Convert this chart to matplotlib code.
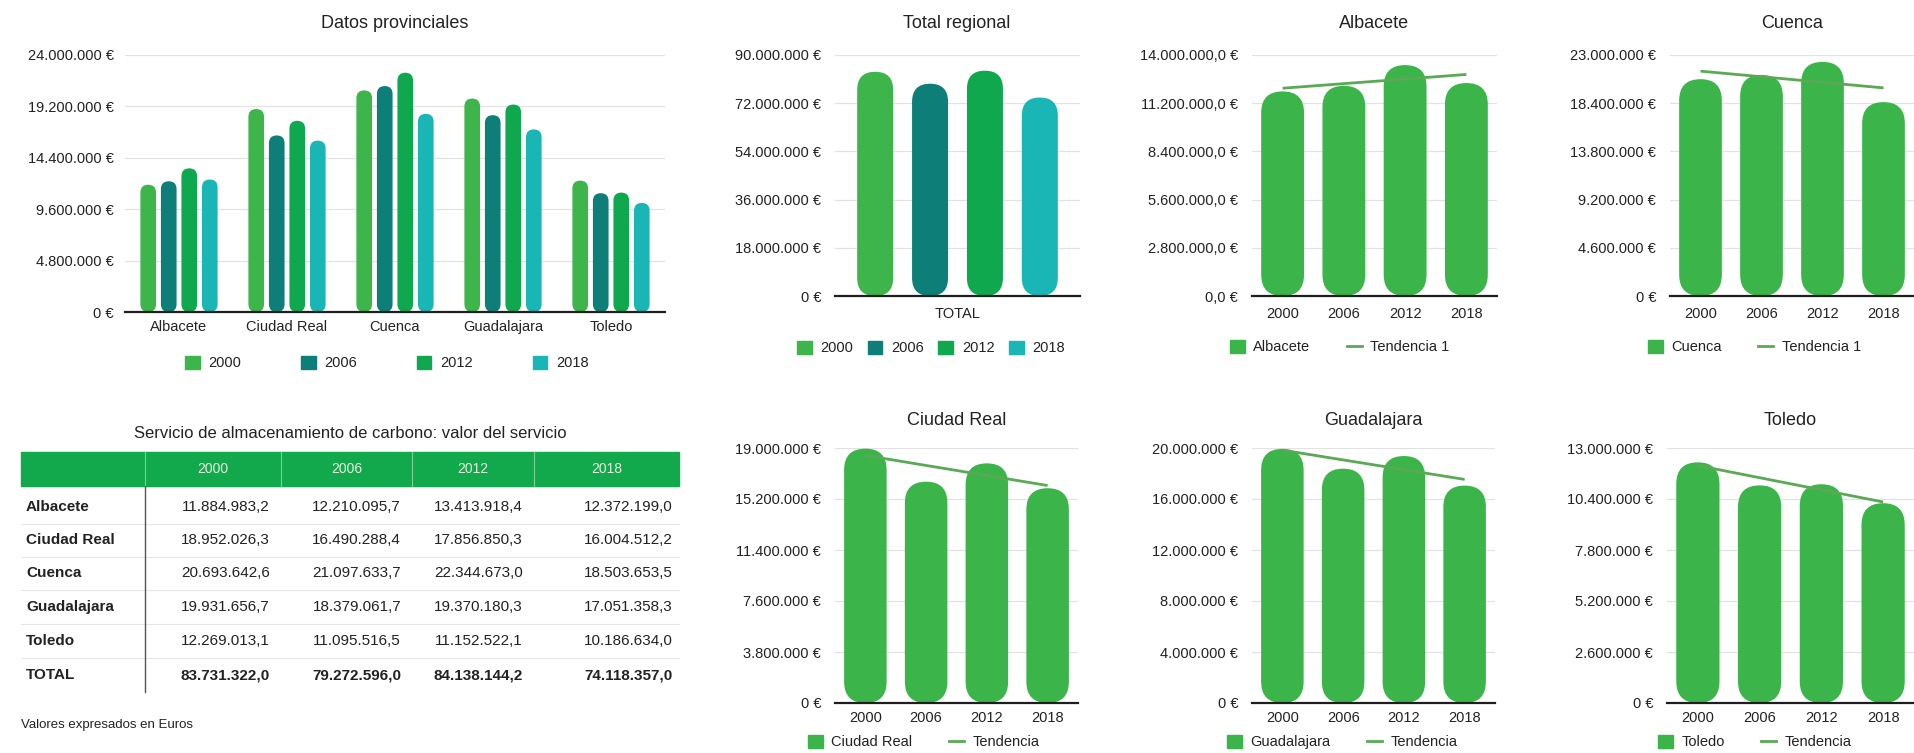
import numpy as np
import matplotlib
matplotlib.use('Agg')
import matplotlib.pyplot as plt
from matplotlib.patches import FancyBboxPatch, Patch
from matplotlib.lines import Line2D

plt.rcParams['font.family'] = ['Liberation Sans', 'DejaVu Sans']

W, H = 1914, 753

# ---------------- data ----------------
years = ['2000', '2006', '2012', '2018']
provinces = ['Albacete', 'Ciudad Real', 'Cuenca', 'Guadalajara', 'Toledo']
albacete = [11884983.2, 12210095.7, 13413918.4, 12372199.0]
ciudad_real = [18952026.3, 16490288.4, 17856850.3, 16004512.2]
cuenca = [20693642.6, 21097633.7, 22344673.0, 18503653.5]
guadalajara = [19931656.7, 18379061.7, 19370180.3, 17051358.3]
toledo = [12269013.1, 11095516.5, 11152522.1, 10186634.0]
total = [83731322.0, 79272596.0, 84138144.2, 74118357.0]
total_label = 'TOTAL'

# axis scales (max, step, decimals)
scale_prov = (24000000, 4800000, 0)
scale_total = (90000000, 18000000, 0)
scale_albacete = (14000000, 2800000, 1)
scale_cuenca = (23000000, 4600000, 0)
scale_creal = (19000000, 3800000, 0)
scale_guada = (20000000, 4000000, 0)
scale_toledo = (13000000, 2600000, 0)

year_colors = ['#3db54a', '#0e7f78', '#0fa84f', '#1ab6b6']
bar_green = '#3bb54a'
trend_green = '#5aa955'
header_green = '#12a84c'
text_col = '#222222'
FS = 10.5

fig = plt.figure(figsize=(W / 100, H / 100), dpi=100)
fig.patch.set_facecolor('white')


def fig_ax(l, r, t, b):
    return fig.add_axes([l / W, 1 - b / H, (r - l) / W, (b - t) / H])


def es_num(v, dec=0):
    s = f"{v:,.{dec}f}"
    return s.replace(',', 'X').replace('.', ',').replace('X', '.')


def style_axis(ax, scale, xpad=8, ypad=10):
    ymax, step, dec = scale
    ticks = np.arange(0, ymax + step / 2, step)
    ax.set_ylim(0, ymax)
    ax.set_yticks(ticks)
    ax.set_yticklabels([es_num(t, dec) + ' €' for t in ticks])
    ax.grid(axis='y', color='#e2e2e2', lw=0.9)
    ax.grid(axis='x', visible=False)
    ax.set_axisbelow(True)
    for s in ax.spines.values():
        s.set_visible(False)
    ax.axhline(0, color='#1e1e1e', lw=1.6, zorder=6, clip_on=False)
    ax.tick_params(axis='both', length=0, labelsize=FS, colors=text_col)
    ax.tick_params(axis='y', pad=ypad)
    ax.tick_params(axis='x', pad=xpad)


def pill_bars(ax, bars, color, frac=0.5):
    bb = ax.get_window_extent()
    x0, x1 = ax.get_xlim()
    y0, y1 = ax.get_ylim()
    aspect = ((y1 - y0) / bb.height) / ((x1 - x0) / bb.width)
    for b in bars:
        x, y, w, h = b.get_x(), b.get_y(), b.get_width(), b.get_height()
        b.remove()
        p = FancyBboxPatch((x, y), w, h,
                           boxstyle=f"round,pad=0,rounding_size={w * frac}",
                           mutation_aspect=aspect, fc=color, ec='none', zorder=3)
        ax.add_patch(p)


def title(x, y, s):
    fig.text(x / W, 1 - y / H, s, ha='center', va='center', fontsize=13, color=text_col)


def legend(ax, handles, labels, x, y, colsp, ncol):
    ax.legend(handles, labels, loc='center left', bbox_to_anchor=(x / W, 1 - y / H),
              bbox_transform=fig.transFigure, ncol=ncol, frameon=False, fontsize=FS,
              handlelength=1.0, handleheight=1.0, handletextpad=0.6,
              columnspacing=colsp, borderpad=0, borderaxespad=0, labelcolor=text_col)


# ---------------- Datos provinciales ----------------
ax = fig_ax(125, 665, 55, 312)
prov_data = np.array([albacete, ciudad_real, cuenca, guadalajara, toledo])
xc = np.arange(len(provinces))
ax.set_xlim(-0.5, len(provinces) - 0.5)
style_axis(ax, scale_prov, xpad=6, ypad=8)
step, bw = 0.19, 0.145
for j, yr in enumerate(years):
    bars = ax.bar(xc + (j - 1.5) * step, prov_data[:, j], width=bw, color=year_colors[j])
    pill_bars(ax, bars, year_colors[j])
ax.set_xticks(xc)
ax.set_xticklabels(provinces)
title(395, 23, 'Datos provinciales')
legend(ax, [Patch(color=c) for c in year_colors], years, 185, 363, 4.1, 4)

# ---------------- Total regional ----------------
ax = fig_ax(835, 1080, 55, 296)
ax.set_xlim(-0.5, 0.5)
style_axis(ax, scale_total, xpad=8, ypad=10)
step, bw = 0.224, 0.147
for j, yr in enumerate(years):
    bars = ax.bar([(j - 1.5) * step], [total[j]], width=bw, color=year_colors[j])
    pill_bars(ax, bars, year_colors[j])
ax.set_xticks([0])
ax.set_xticklabels([total_label])
title(957, 23, 'Total regional')
legend(ax, [Patch(color=c) for c in year_colors], years, 797, 348, 1.0, 4)

# ---------------- Province charts ----------------
province_charts = [
    (albacete, 'Albacete', 'Tendencia 1', scale_albacete, (1252, 1497, 55, 296), 23, 1230, 347, 8),
    (cuenca, 'Cuenca', 'Tendencia 1', scale_cuenca, (1670, 1914, 55, 296), 23, 1648, 347, 8),
    (ciudad_real, 'Ciudad Real', 'Tendencia', scale_creal, (835, 1078, 448, 703), 421, 808, 742, 6),
    (guadalajara, 'Guadalajara', 'Tendencia', scale_guada, (1252, 1495, 448, 703), 421, 1227, 742, 6),
    (toledo, 'Toledo', 'Tendencia', scale_toledo, (1667, 1914, 448, 703), 421, 1658, 742, 6),
]
for vals, name, tname, scale, (l, r, t, b), ty, lx, ly, xp in province_charts:
    ax = fig_ax(l, r, t, b)
    xs = np.arange(len(years))
    ax.set_xlim(-0.5, len(years) - 0.5)
    style_axis(ax, scale, xpad=xp, ypad=10)
    bars = ax.bar(xs, vals, width=0.7, color=bar_green)
    pill_bars(ax, bars, bar_green, frac=0.5)
    coef = np.polyfit(xs, vals, 1)
    ax.plot([xs[0], xs[-1]], np.polyval(coef, [xs[0], xs[-1]]), color=trend_green, lw=2.0,
            zorder=4, solid_capstyle='butt')
    ax.set_xticks(xs)
    ax.set_xticklabels(years)
    title((l + r) / 2, ty, name)
    legend(ax, [Patch(color=bar_green), Line2D([], [], color=trend_green, lw=2)],
           [name, tname], lx, ly, 2.5, 2)

# ---------------- Table ----------------
tax = fig.add_axes([0, 0, 1, 1])
tax.set_xlim(0, W)
tax.set_ylim(H, 0)
tax.axis('off')
tax.patch.set_alpha(0)

row_labels = provinces + [total_label]
row_values = [albacete, ciudad_real, cuenca, guadalajara, toledo, total]
col_edges = [21, 145, 281, 412, 534, 679]
value_right = [270, 401, 523, 673]
head_top, head_bot = 452, 486
row_y = [507, 540, 573, 607, 641, 675]
table_bot = 692

tax.text(350, 433, 'Servicio de almacenamiento de carbono: valor del servicio',
         ha='center', va='center', fontsize=12, color=text_col)
tax.add_patch(plt.Rectangle((col_edges[0], head_top), col_edges[-1] - col_edges[0],
                            head_bot - head_top, color=header_green, zorder=1))
for xe in col_edges[1:-1]:
    tax.plot([xe, xe], [head_top, head_bot], color='#7fcf94', lw=0.8, zorder=2)
for j, yr in enumerate(years):
    tax.text((col_edges[j + 1] + col_edges[j + 2]) / 2, (head_top + head_bot) / 2, yr,
             ha='center', va='center', fontsize=10, color='#e6f5e0', zorder=3)
for i in range(len(row_y) - 1):
    ym = (row_y[i] + row_y[i + 1]) / 2
    tax.plot([col_edges[0], col_edges[-1]], [ym, ym], color='#e6e6e6', lw=0.8)
tax.plot([col_edges[1], col_edges[1]], [head_bot, table_bot], color='#555555', lw=1.0)
for i, (lab, vals) in enumerate(zip(row_labels, row_values)):
    is_total = lab == total_label
    tax.text(col_edges[0] + 5, row_y[i], lab, ha='left', va='center', fontsize=11,
             fontweight='bold', color=text_col)
    for j, v in enumerate(vals):
        tax.text(value_right[j], row_y[i], es_num(v, 1), ha='right', va='center',
                 fontsize=11, fontweight='bold' if is_total else 'normal', color=text_col)
tax.text(col_edges[0], 725, 'Valores expresados en Euros', ha='left', va='center',
         fontsize=9.5, color=text_col)

fig.savefig('out.png', dpi=100, facecolor='white')
